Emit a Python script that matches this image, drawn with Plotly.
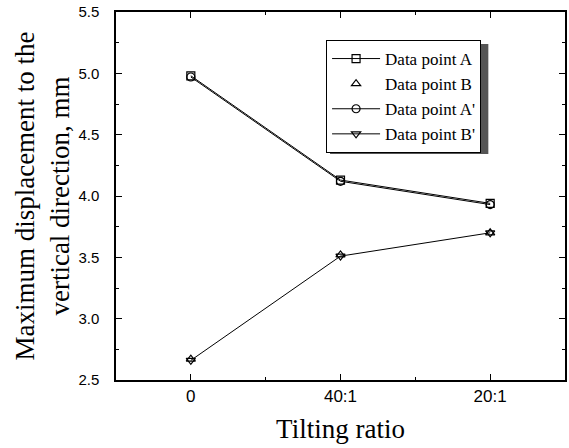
import plotly.graph_objects as go

categories = ["0", "40:1", "20:1"]
data_a = [4.98, 4.13, 3.94]
data_b = [2.67, 3.52, 3.70]
data_a2 = [4.97, 4.12, 3.93]
data_b2 = [2.66, 3.51, 3.70]

xpos = list(range(len(categories)))

fig = go.Figure()
series = [
    ("Data point A", data_a, "square-open", "lines+markers"),
    ("Data point B", data_b, "triangle-up-open", "markers"),
    ("Data point A'", data_a2, "circle-open", "lines+markers"),
    ("Data point B'", data_b2, "triangle-down-open", "lines+markers"),
]
for name, ys, sym, mode in series:
    fig.add_trace(go.Scatter(
        x=xpos, y=ys, name=name, mode=mode,
        line=dict(color="black", width=1.0),
        marker=dict(symbol=sym, size=8, color="black", line=dict(width=1.2, color="black")),
    ))

L, R, T, B = 116, 2, 12, 68
W, H = 569, 448
pw = W - L - R
ph = H - T - B

def px_x(p):
    return (p - L) / pw

def px_y(p):
    return (H - B - p) / ph

serif = "Liberation Serif, Times New Roman, serif"
sans = "Liberation Sans, Arial, sans-serif"

fig.add_shape(type="rect", xref="paper", yref="paper",
              x0=px_x(331), x1=px_x(490), y0=px_y(154), y1=px_y(44),
              fillcolor="#555555", line=dict(width=0), layer="above")

fig.update_layout(
    width=W, height=H,
    margin=dict(l=L, r=R, t=T, b=B),
    plot_bgcolor="white", paper_bgcolor="white",
    showlegend=True,
    legend=dict(x=px_x(327), y=px_y(40), xanchor="left", yanchor="top",
                bgcolor="white", bordercolor="black", borderwidth=1,
                font=dict(family=serif, size=17, color="black"),
                tracegroupgap=0, itemwidth=48),
    font=dict(family=sans, color="black"),
)
fig.update_xaxes(
    range=[-0.5, 2.5], tickmode="array", tickvals=xpos, ticktext=categories,
    ticks="inside", ticklen=6, tickwidth=1.2, tickcolor="black",
    minor=dict(tickvals=[0.5, 1.5], ticks="inside", ticklen=3, tickcolor="black"),
    showline=True, linecolor="black", linewidth=1.5, mirror="ticks",
    showgrid=False, zeroline=False,
    tickfont=dict(size=17, family=sans),
    title=dict(text="Tilting ratio", font=dict(family=serif, size=27), standoff=14),
)
fig.update_yaxes(
    range=[2.5, 5.5], tickmode="linear", tick0=2.5, dtick=0.5, tickformat=".1f",
    ticks="inside", ticklen=6, tickwidth=1.2, tickcolor="black",
    minor=dict(dtick=0.25, ticks="inside", ticklen=3, tickcolor="black"),
    showline=True, linecolor="black", linewidth=1.5, mirror="ticks",
    showgrid=False, zeroline=False,
    tickfont=dict(size=15, family=sans), ticklabelstandoff=12,
    title=dict(text="Maximum displacement to the<br>vertical direction, mm",
               font=dict(family=serif, size=27), standoff=1),
)

fig.write_html("out.html")
